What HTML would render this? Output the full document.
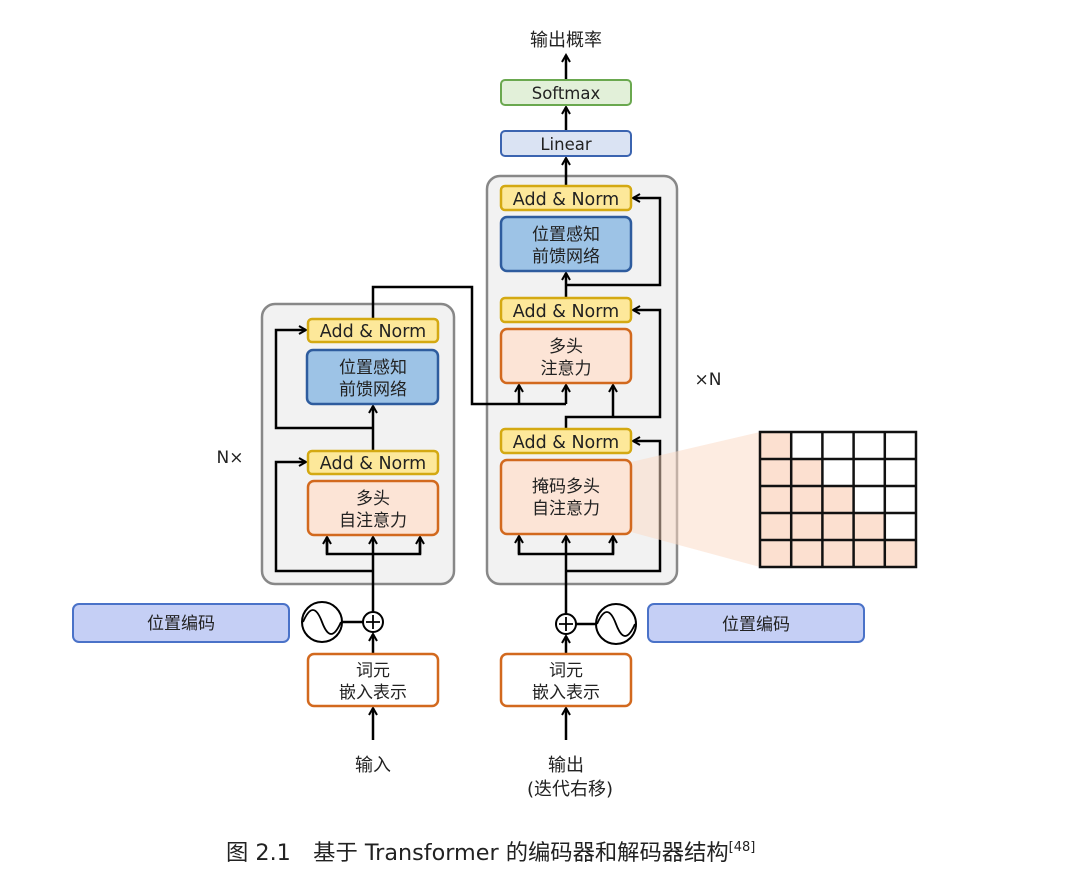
<!DOCTYPE html>
<html><head><meta charset="utf-8"><style>
body{margin:0;background:#fff}
svg text{font-family:"DejaVu Sans","Noto Sans CJK SC",sans-serif;fill:#222}
</style></head><body>
<svg width="1080" height="884" viewBox="0 0 1080 884" xmlns="http://www.w3.org/2000/svg">
<defs>
<marker id="a" markerWidth="10" markerHeight="10" refX="8" refY="5" orient="auto" markerUnits="userSpaceOnUse">
<path d="M1,1 L8,5 L1,9" fill="none" stroke="#000" stroke-width="2"/></marker>
</defs>
<rect x="262" y="304" width="192" height="280" rx="13" fill="#f2f2f2" stroke="#888" stroke-width="2.5"/>
<rect x="487" y="176" width="190" height="408" rx="13" fill="#f2f2f2" stroke="#888" stroke-width="2.5"/>

<g fill="none" stroke="#000" stroke-width="2.5">
<line x1="373" y1="612" x2="373" y2="537" marker-end="url(#a)"/>
<polyline points="327,537 327,554 420,554 420,537"/>
<line x1="327" y1="554" x2="327" y2="537" marker-end="url(#a)"/>
<line x1="420" y1="554" x2="420" y2="537" marker-end="url(#a)"/>
<polyline points="373,571 276,571 276,462 306,462" marker-end="url(#a)"/>
<line x1="373" y1="451" x2="373" y2="406" marker-end="url(#a)"/>
<polyline points="373,428 276,428 276,330 306,330" marker-end="url(#a)"/>
<polyline points="373,319 373,287 472,287 472,404 566,404"/>
<line x1="566" y1="614" x2="566" y2="536" marker-end="url(#a)"/>
<polyline points="519,537 519,554 613,554 613,537"/>
<line x1="519" y1="554" x2="519" y2="536" marker-end="url(#a)"/>
<line x1="613" y1="554" x2="613" y2="536" marker-end="url(#a)"/>
<polyline points="566,571 660,571 660,441 633,441" marker-end="url(#a)"/>
<line x1="519" y1="404" x2="519" y2="385" marker-end="url(#a)"/>
<line x1="566" y1="404" x2="566" y2="385" marker-end="url(#a)"/>
<polyline points="566,429 566,417 660,417 660,310 633,310" marker-end="url(#a)"/>
<line x1="613" y1="417" x2="613" y2="385" marker-end="url(#a)"/>
<line x1="566" y1="298" x2="566" y2="273" marker-end="url(#a)"/>
<polyline points="566,285 660,285 660,198 633,198" marker-end="url(#a)"/>
<line x1="566" y1="186" x2="566" y2="158" marker-end="url(#a)"/>
<line x1="566" y1="131" x2="566" y2="107" marker-end="url(#a)"/>
<line x1="566" y1="80" x2="566" y2="55" marker-end="url(#a)"/>
<line x1="373" y1="654" x2="373" y2="634" marker-end="url(#a)"/>
<line x1="566" y1="654" x2="566" y2="636" marker-end="url(#a)"/>
<line x1="373" y1="740" x2="373" y2="708" marker-end="url(#a)"/>
<line x1="566" y1="740" x2="566" y2="708" marker-end="url(#a)"/>
<line x1="342" y1="622" x2="363" y2="622"/>
<line x1="576" y1="624" x2="596" y2="624"/>
</g>

<polygon points="631,462 760,432 760,567 631,532" fill="#fbd9c4" opacity="0.5"/>

<g stroke-width="2.5">
<rect x="308" y="319" width="130" height="23" rx="4" fill="#fde89a" stroke="#d4a912"/>
<rect x="307" y="350" width="131" height="54" rx="6" fill="#9dc3e6" stroke="#2e5c9e"/>
<rect x="308" y="451" width="130" height="23" rx="4" fill="#fde89a" stroke="#d4a912"/>
<rect x="308" y="481" width="130" height="54" rx="6" fill="#fce4d6" stroke="#d2691e"/>
<rect x="501" y="186" width="130" height="24" rx="4" fill="#fde89a" stroke="#d4a912"/>
<rect x="501" y="217" width="130" height="54" rx="6" fill="#9dc3e6" stroke="#2e5c9e"/>
<rect x="501" y="298" width="130" height="24" rx="4" fill="#fde89a" stroke="#d4a912"/>
<rect x="501" y="329" width="130" height="54" rx="6" fill="#fce4d6" stroke="#d2691e"/>
<rect x="501" y="429" width="130" height="24" rx="4" fill="#fde89a" stroke="#d4a912"/>
<rect x="501" y="460" width="130" height="74" rx="6" fill="#fce4d6" stroke="#d2691e"/>
<rect x="501" y="131" width="130" height="25" rx="4" fill="#dae3f3" stroke="#3b64b0" stroke-width="2"/>
<rect x="501" y="80" width="130" height="25" rx="4" fill="#e2f0d9" stroke="#6aa84f" stroke-width="2"/>
<rect x="73" y="604" width="216" height="38" rx="6" fill="#c5cff5" stroke="#4a72c8" stroke-width="2"/>
<rect x="648" y="604" width="216" height="38" rx="6" fill="#c5cff5" stroke="#4a72c8" stroke-width="2"/>
<rect x="308" y="654" width="130" height="52" rx="6" fill="#fff" stroke="#d2691e"/>
<rect x="501" y="654" width="130" height="52" rx="6" fill="#fff" stroke="#d2691e"/>
</g>

<g fill="#fff" stroke="#000" stroke-width="2">
<circle cx="373" cy="622" r="10"/><circle cx="566" cy="624" r="10"/>
<circle cx="322" cy="622" r="20"/><circle cx="616" cy="624" r="20"/>
</g>
<g fill="none" stroke="#000" stroke-width="1.8">
<path d="M366,622 H380 M373,615 V629 M559,624 H573 M566,617 V631"/>
<path d="M303,622 C310,606 316,606 322,622 C328,638 334,638 341,622"/>
<path d="M597,624 C604,608 610,608 616,624 C622,640 628,640 635,624"/>
</g>

<rect x="760" y="432" width="156" height="135" fill="#fff"/>
<g fill="#fce0d0">
<rect x="760" y="432" width="31.2" height="27"/>
<rect x="760" y="459" width="62.4" height="27"/>
<rect x="760" y="486" width="93.6" height="27"/>
<rect x="760" y="513" width="124.8" height="27"/>
<rect x="760" y="540" width="156" height="27"/>
</g>
<g stroke="#111" stroke-width="2.5" fill="none">
<rect x="760" y="432" width="156" height="135"/>
<path d="M791.2,432V567 M822.4,432V567 M853.6,432V567 M884.8,432V567 M760,459H916 M760,486H916 M760,513H916 M760,540H916"/>
</g>

<g font-size="17" text-anchor="middle">
<text x="373" y="337" font-size="17.5">Add &amp; Norm</text>
<text x="373" y="469" font-size="17.5">Add &amp; Norm</text>
<text x="566" y="205" font-size="17.5">Add &amp; Norm</text>
<text x="566" y="317" font-size="17.5">Add &amp; Norm</text>
<text x="566" y="448" font-size="17.5">Add &amp; Norm</text>
<text x="566" y="150" font-size="16.5">Linear</text>
<text x="566" y="99" font-size="16.5">Softmax</text>
<text x="373" y="373">位置感知</text><text x="373" y="395">前馈网络</text>
<text x="566" y="240">位置感知</text><text x="566" y="262">前馈网络</text>
<text x="373" y="504">多头</text><text x="373" y="526">自注意力</text>
<text x="566" y="352">多头</text><text x="566" y="374">注意力</text>
<text x="566" y="492">掩码多头</text><text x="566" y="514">自注意力</text>
<text x="181" y="629">位置编码</text><text x="756" y="630">位置编码</text>
<text x="373" y="676">词元</text><text x="373" y="698">嵌入表示</text>
<text x="566" y="676">词元</text><text x="566" y="698">嵌入表示</text>
<text x="373" y="771" font-size="18">输入</text>
<text x="566" y="771" font-size="18">输出</text>
<text x="570" y="795" font-size="18">(迭代右移)</text>
<text x="566" y="46" font-size="18">输出概率</text>
<text x="230" y="463" font-size="17">N×</text>
<text x="708" y="385" font-size="17">×N</text>
</g>
<text x="226" y="860" font-size="22.3">图 2.1　基于 Transformer 的编码器和解码器结构<tspan font-size="13" dy="-9">[48]</tspan></text>
</svg>
</body></html>
